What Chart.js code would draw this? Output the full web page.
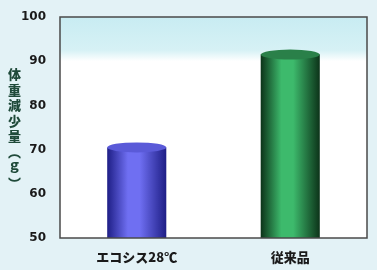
<!DOCTYPE html>
<html>
<head>
<meta charset="utf-8">
<script src="https://cdn.jsdelivr.net/npm/chart.js@4"></script>
<style>
    html, body { margin: 0; padding: 0; background: #e3f2f6; }
    #wrap { position: relative; width: 377px; height: 270px; }
    #yTitle {
        position: absolute; left: 8px; top: 68px;
        writing-mode: vertical-rl; text-orientation: mixed;
        font: 900 13px "Noto Sans CJK JP", sans-serif; color: #1f4a3a;
        line-height: 1;
        letter-spacing: 2.5px;
    }
</style>
</head>
<body>
<div id="wrap">
    <canvas id="chart" width="377" height="270"></canvas>
    <div id="yTitle">体重減少量（ｇ）</div>
</div>
<script>
// Dados
const categorias = ['エコシス28℃', '従来品'];
const valores = [70.5, 91.5];
const ticksY = [50, 60, 70, 80, 90, 100];

// Cores dos cilindros
const coresEscuras = ['#1e1e86', '#0c3319'];
const coresClaras = ['#6f6ff2', '#3dba6c'];
const coresTopo = ['#5a5ad8', '#2a8049'];

const BAR_PCT = 0.77;
const CAT_PCT = 0.5;

function gradiente(ctx, i) {
    const chart = ctx.chart;
    const sx = chart.scales.x;
    if (!sx || !chart.chartArea) return coresClaras[i];
    const cx = sx.getPixelForValue(i);
    const w = (sx.width / categorias.length) * CAT_PCT * BAR_PCT;
    const g = chart.ctx.createLinearGradient(cx - w / 2, 0, cx + w / 2, 0);
    g.addColorStop(0, coresEscuras[i]);
    g.addColorStop(0.35, coresClaras[i]);
    g.addColorStop(0.55, coresClaras[i]);
    g.addColorStop(1, coresEscuras[i]);
    return g;
}

// Fundo da área do gráfico
const fundoPlugin = {
    id: 'fundo',
    beforeDraw(chart) {
        const { ctx, chartArea: a } = chart;
        ctx.save();
        const g = ctx.createLinearGradient(0, a.top, 0, a.bottom);
        g.addColorStop(0, '#c8ecf2');
        g.addColorStop(0.15, '#d6f1f5');
        g.addColorStop(0.2, '#ffffff');
        g.addColorStop(1, '#ffffff');
        ctx.fillStyle = g;
        ctx.fillRect(a.left, a.top, a.right - a.left, a.bottom - a.top);
        ctx.restore();
    },
    afterDraw(chart) {
        const { ctx, chartArea: a } = chart;
        ctx.save();
        ctx.strokeStyle = '#4a4a4a';
        ctx.lineWidth = 1.5;
        ctx.strokeRect(a.left, a.top, a.right - a.left, a.bottom - a.top);
        ctx.restore();
    }
};

// Topo elíptico dos cilindros
const cilindroPlugin = {
    id: 'cilindro',
    afterDatasetsDraw(chart) {
        const ctx = chart.ctx;
        chart.getDatasetMeta(0).data.forEach((el, i) => {
            const rx = el.width / 2;
            ctx.save();
            ctx.beginPath();
            ctx.ellipse(el.x, el.y, rx, 5, 0, 0, Math.PI * 2);
            ctx.fillStyle = coresTopo[i];
            ctx.fill();
            ctx.restore();
        });
    }
};

new Chart(document.getElementById('chart'), {
    type: 'bar',
    data: {
        labels: categorias,
        datasets: [{
            data: valores,
            backgroundColor: (ctx) => gradiente(ctx, ctx.dataIndex),
            borderWidth: 0,
            barPercentage: BAR_PCT,
            categoryPercentage: CAT_PCT
        }]
    },
    options: {
        responsive: false,
        animation: false,
        layout: { padding: { left: 20, right: 10, top: 17, bottom: 0 } },
        plugins: { legend: { display: false }, tooltip: { enabled: false } },
        scales: {
            x: {
                grid: { display: false },
                border: { display: false },
                ticks: {
                    color: '#1a1a1a',
                    font: { family: '"Noto Sans CJK JP", sans-serif', size: 13, weight: '900' },
                    padding: 3
                },
                afterFit(scale) { scale.height = 32; }
            },
            y: {
                min: 50, max: 100,
                afterBuildTicks(scale) { scale.ticks = ticksY.map(v => ({ value: v })); },
                grid: { display: false },
                border: { display: false },
                ticks: {
                    color: '#1a1a1a',
                    font: { family: '"DejaVu Sans", sans-serif', size: 12, weight: 'bold' },
                    padding: 6
                },
                afterFit(scale) { scale.width = 40; }
            }
        }
    },
    plugins: [fundoPlugin, cilindroPlugin]
});
</script>
</body>
</html>
